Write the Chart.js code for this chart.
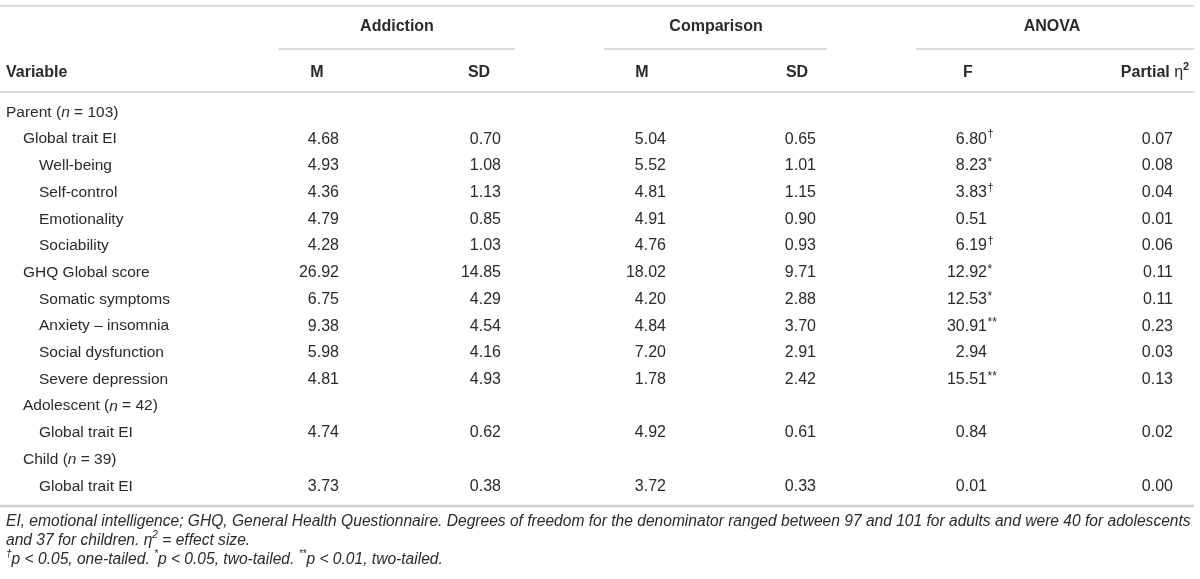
<!DOCTYPE html>
<html>
<head>
<meta charset="utf-8">
<script src="https://cdn.jsdelivr.net/npm/chart.js@4"></script>
<style>
  html, body { margin: 0; padding: 0; background: #fff; }
  #caixa { width: 1200px; height: 579px; position: relative; }
</style>
</head>
<body>
<div id="caixa"><canvas id="tabela"></canvas></div>
<script>
// row labels, "_" marks italic text
var rotulos = [
    'Parent (_n_ = 103)',
    'Global trait EI',
    'Well-being',
    'Self-control',
    'Emotionality',
    'Sociability',
    'GHQ Global score',
    'Somatic symptoms',
    'Anxiety \u2013 insomnia',
    'Social dysfunction',
    'Severe depression',
    'Adolescent (_n_ = 42)',
    'Global trait EI',
    'Child (_n_ = 39)',
    'Global trait EI'
];
var nivel = [0, 1, 2, 2, 2, 2, 1, 2, 2, 2, 2, 1, 2, 1, 2];

var grupos = ['Addiction', 'Comparison', 'ANOVA'];
var colunas = ['M', 'SD', 'M', 'SD', 'F', 'Partial \u03b7'];

var adicaoM = [null, 4.68, 4.93, 4.36, 4.79, 4.28, 26.92, 6.75, 9.38, 5.98, 4.81, null, 4.74, null, 3.73];
var adicaoSD = [null, 0.70, 1.08, 1.13, 0.85, 1.03, 14.85, 4.29, 4.54, 4.16, 4.93, null, 0.62, null, 0.38];
var comparacaoM = [null, 5.04, 5.52, 4.81, 4.91, 4.76, 18.02, 4.20, 4.84, 7.20, 1.78, null, 4.92, null, 3.72];
var comparacaoSD = [null, 0.65, 1.01, 1.15, 0.90, 0.93, 9.71, 2.88, 3.70, 2.91, 2.42, null, 0.61, null, 0.33];
var anovaF = [null, 6.80, 8.23, 3.83, 0.51, 6.19, 12.92, 12.53, 30.91, 2.94, 15.51, null, 0.84, null, 0.01];
var marcasF = ['', '\u2020', '*', '\u2020', '', '\u2020', '*', '*', '**', '', '**', '', '', '', ''];
var etaParcial = [null, 0.07, 0.08, 0.04, 0.01, 0.06, 0.11, 0.11, 0.23, 0.03, 0.13, null, 0.02, null, 0.00];

// layout
var fonte = '"Liberation Sans", Arial, Helvetica, sans-serif';
var corTexto = '#2a2a2a';
var corLinha = '#cfcfcf';
var primeiraLinha = 112.5;
var alturaLinha = 26.7;
var recuo = [6, 23, 39];
var direitaValor = [339, 501, 666, 816, 987, 1173];
var centroCabecalho = [317, 479, 642, 797, 968, 1155];
var centroGrupo = [397, 716, 1052];
var traçoGrupo = [[279, 515], [604, 827], [916, 1194]];

function linhaY(i) {
    return primeiraLinha + i * alturaLinha;
}

function pontos(valores, col) {
    var lista = [];
    valores.forEach(function (v, i) {
        if (v !== null) {
            lista.push({ x: direitaValor[col], y: linhaY(i), texto: v.toFixed(2), marca: col == 4 ? marcasF[i] : '' });
        }
    });
    return lista;
}

function pontosRotulo() {
    return rotulos.map(function (r, i) {
        return { x: recuo[nivel[i]], y: linhaY(i), texto: r };
    });
}

function fonteDe(tam, negrito, italico) {
    return (italico ? 'italic ' : '') + (negrito ? 'bold ' : '') + tam + 'px ' + fonte;
}

// draws a list of pieces {t, it, sup} left aligned, returns width
function desenharPartes(ctx, partes, x, y, tam, negrito, italico, medirSo) {
    var cx = x;
    partes.forEach(function (p) {
        var t = p.sup ? Math.round(tam * 0.66) : tam;
        ctx.font = fonteDe(t, negrito && !p.normal, italico || p.it);
        if (!medirSo) ctx.fillText(p.t, cx, p.sup ? y - tam * 0.36 : y);
        cx += ctx.measureText(p.t).width;
    });
    return cx - x;
}

function partesDe(texto) {
    return texto.split('_').map(function (s, k) {
        return { t: s, it: k % 2 == 1 };
    });
}

var notas = [
    [{ t: 'EI, emotional intelligence; GHQ, General Health Questionnaire. Degrees of freedom for the denominator ranged between 97 and 101 for adults and were 40 for adolescents' }],
    [{ t: 'and 37 for children. ' }, { t: '\u03b7' }, { t: '2', sup: true }, { t: ' = effect size.' }],
    [{ t: '\u2020', sup: true }, { t: 'p < 0.05, one-tailed. ' }, { t: '*', sup: true }, { t: 'p < 0.05, two-tailed. ' }, { t: '**', sup: true }, { t: 'p < 0.01, two-tailed.' }]
];

const pluginTabela = {
    id: 'tabela',
    afterDatasetsDraw(chart) {
        const ctx = chart.ctx;
        const sx = chart.scales.x;
        const sy = chart.scales.y;
        ctx.save();

        function linha(x1, x2, y, w) {
            ctx.strokeStyle = corLinha;
            ctx.lineWidth = w;
            ctx.beginPath();
            ctx.moveTo(sx.getPixelForValue(x1), sy.getPixelForValue(y));
            ctx.lineTo(sx.getPixelForValue(x2), sy.getPixelForValue(y));
            ctx.stroke();
        }

        linha(0, 1194, 6, 1.5);
        traçoGrupo.forEach(function (t) { linha(t[0], t[1], 49, 1.5); });
        linha(0, 1194, 92, 1.5);
        linha(0, 1194, 506, 2.5);

        ctx.fillStyle = corTexto;
        ctx.textBaseline = 'middle';

        // group headers
        ctx.font = fonteDe(16, true, false);
        ctx.textAlign = 'center';
        grupos.forEach(function (g, k) {
            ctx.fillText(g, sx.getPixelForValue(centroGrupo[k]), sy.getPixelForValue(27));
        });

        // column headers
        ctx.textAlign = 'left';
        desenharPartes(ctx, [{ t: 'Variable' }], sx.getPixelForValue(6), sy.getPixelForValue(73), 16, true, false);
        colunas.forEach(function (c, k) {
            var partes = [{ t: c }];
            if (k == 5) partes = [{ t: 'Partial ' }, { t: '\u03b7', normal: true }, { t: '2', sup: true }];
            var w = desenharPartes(ctx, partes, 0, 0, 16, true, false, true);
            desenharPartes(ctx, partes, sx.getPixelForValue(centroCabecalho[k]) - w / 2, sy.getPixelForValue(73), 16, true, false);
        });

        // cells
        chart.data.datasets.forEach(function (ds, d) {
            const meta = chart.getDatasetMeta(d);
            meta.data.forEach(function (el, i) {
                const p = ds.data[i];
                if (ds.rotulo) {
                    ctx.textAlign = 'left';
                    desenharPartes(ctx, partesDe(p.texto), el.x, el.y, 15.5, false, false);
                } else {
                    ctx.textAlign = 'right';
                    ctx.font = fonteDe(16, false, false);
                    ctx.fillText(p.texto, el.x, el.y);
                    if (p.marca) {
                        ctx.textAlign = 'left';
                        if (p.marca == '\u2020') {
                            ctx.font = fonteDe(11, false, false);
                            ctx.fillText(p.marca, el.x + 0.5, el.y - 5);
                        } else {
                            ctx.font = fonteDe(12, false, false);
                            ctx.fillText(p.marca, el.x + 0.5, el.y - 3);
                        }
                    }
                }
            });
        });

        // footnotes
        ctx.textAlign = 'left';
        var w1 = desenharPartes(ctx, notas[0], 0, 0, 15, false, true, true);
        var tamNota = 15 * 1186 / w1;
        var ys = [522, 541, 560];
        notas.forEach(function (n, k) {
            desenharPartes(ctx, n, sx.getPixelForValue(6), sy.getPixelForValue(ys[k]), tamNota, false, true);
        });

        ctx.restore();
    }
};

function conjunto(dados, extra) {
    return Object.assign({
        data: dados,
        pointRadius: 0,
        pointHoverRadius: 0,
        showLine: false,
        clip: false
    }, extra || {});
}

new Chart(document.getElementById('tabela'), {
    type: 'scatter',
    data: {
        datasets: [
            conjunto(pontosRotulo(), { rotulo: true }),
            conjunto(pontos(adicaoM, 0)),
            conjunto(pontos(adicaoSD, 1)),
            conjunto(pontos(comparacaoM, 2)),
            conjunto(pontos(comparacaoSD, 3)),
            conjunto(pontos(anovaF, 4)),
            conjunto(pontos(etaParcial, 5))
        ]
    },
    options: {
        responsive: true,
        maintainAspectRatio: false,
        animation: false,
        layout: { padding: 0 },
        events: [],
        plugins: {
            legend: { display: false },
            tooltip: { enabled: false }
        },
        scales: {
            x: { type: 'linear', min: 0, max: 1200, display: false },
            y: { type: 'linear', min: 0, max: 579, reverse: true, display: false }
        }
    },
    plugins: [pluginTabela]
});
</script>
</body>
</html>
